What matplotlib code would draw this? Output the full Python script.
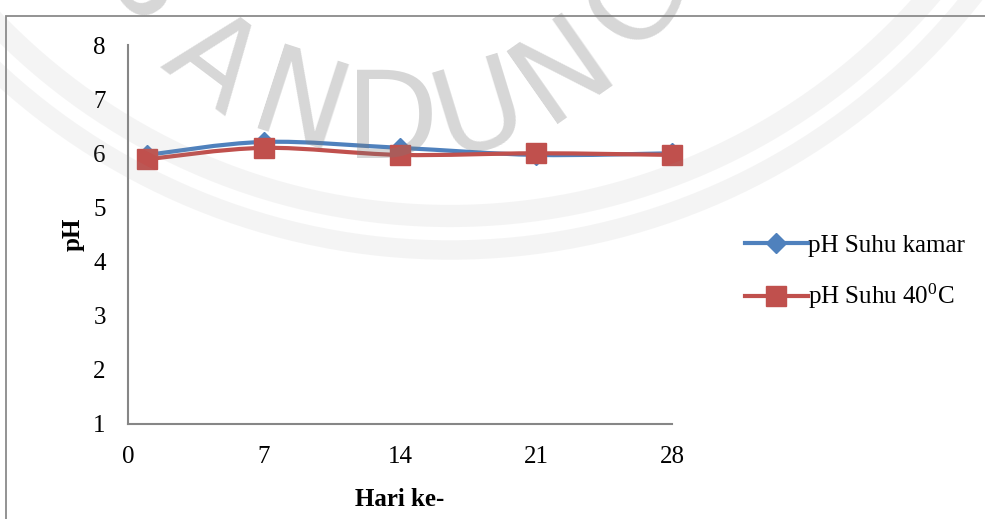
import numpy as np
import matplotlib
matplotlib.use("Agg")
import matplotlib.pyplot as plt
from matplotlib.path import Path
from matplotlib.patches import PathPatch, Rectangle, Circle
from matplotlib.lines import Line2D
from matplotlib.transforms import IdentityTransform

# ---- data ----
hari = [1, 7, 14, 21, 28]
ph_kamar = [5.97, 6.21, 6.10, 5.97, 6.00]
ph_40 = [5.89, 6.10, 5.97, 6.00, 5.97]
x_ticks = [0, 7, 14, 21, 28]
y_ticks = [1, 2, 3, 4, 5, 6, 7, 8]
label_kamar = "pH Suhu kamar"
label_40 = r"pH Suhu 40$^{\mathrm{0}}$C"

BLUE = "#4F81BD"
RED = "#C0504D"
SERIF = ["Liberation Serif", "DejaVu Serif"]

plt.rcParams["font.family"] = SERIF
plt.rcParams["mathtext.fontset"] = "custom"
plt.rcParams["mathtext.rm"] = "Liberation Serif"
plt.rcParams["mathtext.it"] = "Liberation Serif:italic"

W, H = 985, 519
fig = plt.figure(figsize=(W / 100, H / 100), dpi=100)
fig.patch.set_facecolor("white")

# outer chart-area frame (continues past the right and bottom edges)
fig.add_artist(Rectangle((5.5, -20), 1100, H - 15.5 + 20, transform=IdentityTransform(),
                         fill=False, edgecolor="#8a8a8a", linewidth=1.3, zorder=1))

ax = fig.add_axes([128 / W, 1 - 424 / H, (672 - 128) / W, (424 - 45) / H])
ax.set_facecolor("none")
ax.set_xlim(0, 28)
ax.set_ylim(1, 8)
ax.set_xticks(x_ticks)
ax.set_yticks(y_ticks)
ax.tick_params(length=0, labelsize=18, colors="black")
ax.tick_params(axis="y", pad=16)
ax.tick_params(axis="x", pad=16)
for s in ["top", "right"]:
    ax.spines[s].set_visible(False)
for s in ["left", "bottom"]:
    ax.spines[s].set_color("#868686")
    ax.spines[s].set_linewidth(1.5)

ax.set_ylabel("pH", fontsize=18, fontweight="bold", labelpad=6)
ax.set_xlabel("Hari ke-", fontsize=18, fontweight="bold", labelpad=14)


def smooth_path(xs, ys):
    """Cubic Bezier through the points (Catmull-Rom style tangents)."""
    pts = np.column_stack([xs, ys]).astype(float)
    n = len(pts)
    verts = [pts[0]]
    codes = [Path.MOVETO]
    for i in range(n - 1):
        p0 = pts[i - 1] if i > 0 else pts[i]
        p1 = pts[i]
        p2 = pts[i + 1]
        p3 = pts[i + 2] if i + 2 < n else pts[i + 1]
        c1 = p1 + (p2 - p0) / 6.0
        c2 = p2 - (p3 - p1) / 6.0
        verts += [c1, c2, p2]
        codes += [Path.CURVE4] * 3
    return Path(verts, codes)


for ys, col, mk, ms in [(ph_kamar, BLUE, "D", 10), (ph_40, RED, "s", 14)]:
    ax.add_patch(PathPatch(smooth_path(hari, ys), fill=False, edgecolor=col,
                           linewidth=3.0, capstyle="round", joinstyle="round",
                           zorder=3, clip_on=False))
    ax.plot(hari, ys, linestyle="none", marker=mk, markersize=ms,
            color=col, markeredgecolor=col, zorder=4, clip_on=False)

handles = [
    Line2D([], [], color=BLUE, linewidth=3.0, marker="D", markersize=10),
    Line2D([], [], color=RED, linewidth=3.0, marker="s", markersize=14),
]
fig.legend(handles, [label_kamar, label_40], loc="center left",
           bbox_to_anchor=(745 / W, 1 - 273 / H), frameon=False, fontsize=18,
           handlelength=2.5, handletextpad=0.0, labelspacing=1.0, borderpad=0,
           borderaxespad=0)

# ---- faint "BANDUNG" seal in the background ----
seal = IdentityTransform()
for rad, lw in [(632, 16), (666, 14)]:
    fig.add_artist(Circle((450, H + 416), rad, transform=seal, fill=False,
                          edgecolor="#9a9a9a", linewidth=lw, alpha=0.10, zorder=6))
cx, cy, R = 392, -175, 300
for ch, ang in zip("BANDUNG", [-57, -37, -18, 0, 17, 35, 55]):
    t = np.deg2rad(ang)
    px = cx + R * np.sin(t)
    py = cy + R * np.cos(t)
    fig.text(px, H - py, ch, transform=seal, rotation=ang, rotation_mode="anchor",
             ha="center", va="center", fontsize=88,
             family=["Liberation Sans Narrow", "DejaVu Sans"],
             color="#7a7a7a", alpha=0.30, zorder=7)

fig.savefig("out.png", dpi=100, facecolor="white")
